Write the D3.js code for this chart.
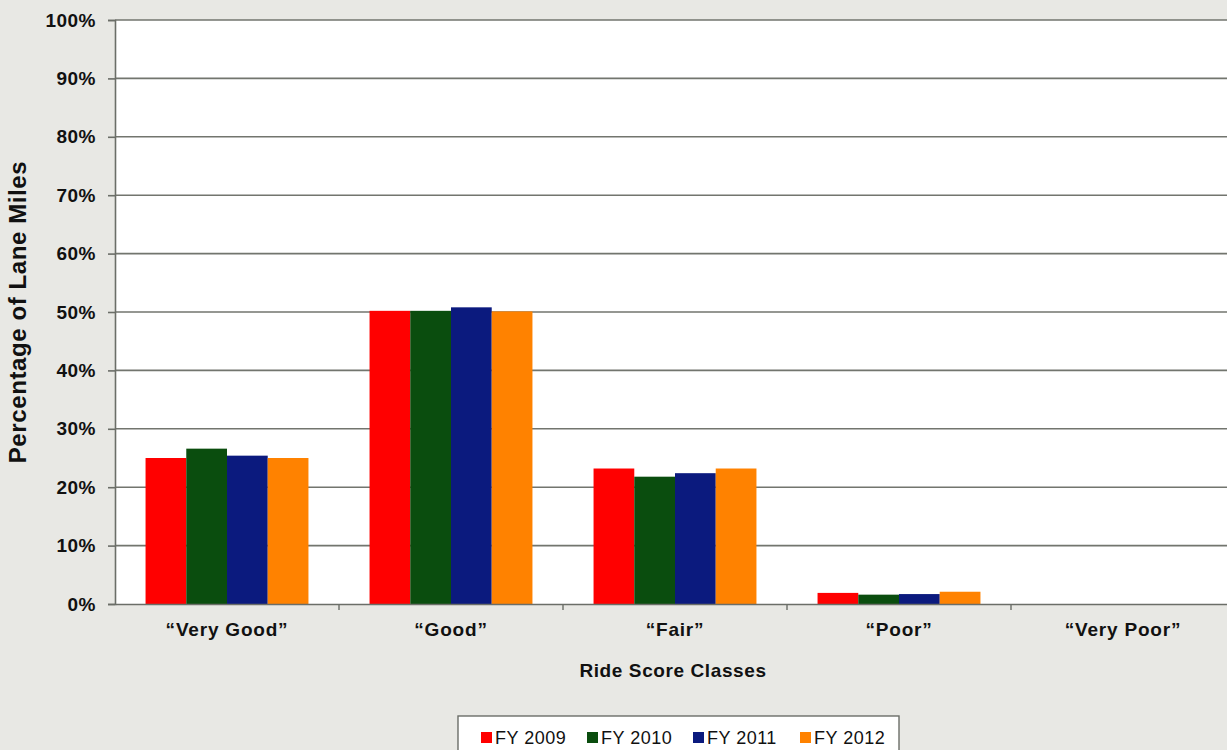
<!DOCTYPE html>
<html>
<head>
<meta charset="utf-8">
<script src="https://cdn.jsdelivr.net/npm/d3@7/dist/d3.min.js"></script>
<style>
  html, body { margin: 0; padding: 0; background: #e8e8e4; }
  svg { display: block; font-family: "Liberation Sans", Arial, sans-serif; }
</style>
</head>
<body>
<svg id="chart" width="1227" height="750"></svg>
<script>
// Ride score classes and share of lane miles per fiscal year (%)
const categories = ["\u201CVery Good\u201D", "\u201CGood\u201D", "\u201CFair\u201D", "\u201CPoor\u201D", "\u201CVery Poor\u201D"];
const seriesNames = ["FY 2009", "FY 2010", "FY 2011", "FY 2012"];
const fy2009 = [25.0, 50.2, 23.2, 1.9, 0];
const fy2010 = [26.6, 50.2, 21.8, 1.6, 0];
const fy2011 = [25.4, 50.8, 22.4, 1.7, 0];
const fy2012 = [25.0, 50.1, 23.2, 2.1, 0];
const seriesColors = ["#ff0000", "#0a4d0e", "#0b1a7e", "#ff8200"];
const yTicks = [0, 10, 20, 30, 40, 50, 60, 70, 80, 90, 100];

const seriesValues = [fy2009, fy2010, fy2011, fy2012];

const svg = d3.select("#chart");
const plot = { left: 115, right: 1235, top: 20, bottom: 604 };

const x = d3.scaleBand().domain(categories).range([plot.left, plot.right]).paddingInner(0).paddingOuter(0);
const inner = d3.scaleBand().domain(seriesNames).range([0, x.bandwidth()]).paddingOuter(0.75).paddingInner(0);
const y = d3.scaleLinear().domain([0, 100]).range([plot.bottom, plot.top]);

// plot area background
svg.append("rect")
  .attr("x", plot.left).attr("y", plot.top)
  .attr("width", plot.right - plot.left).attr("height", plot.bottom - plot.top)
  .attr("fill", "#ffffff");

// horizontal gridlines
svg.append("g")
  .selectAll("line")
  .data(yTicks.filter(d => d > 0))
  .join("line")
  .attr("x1", plot.left).attr("x2", plot.right)
  .attr("y1", d => y(d)).attr("y2", d => y(d))
  .attr("stroke", "#72756e").attr("stroke-width", 1.6);

// bars
const groups = svg.append("g")
  .selectAll("g")
  .data(seriesNames.map((name, i) => ({ name, color: seriesColors[i], values: seriesValues[i] })))
  .join("g")
  .attr("fill", d => d.color);

groups.selectAll("rect")
  .data(s => categories.map((c, j) => ({ c, v: s.values[j], name: s.name })))
  .join("rect")
  .attr("x", d => x(d.c) + inner(d.name))
  .attr("width", inner.bandwidth())
  .attr("y", d => y(d.v))
  .attr("height", d => y(0) - y(d.v));

// y axis
const yAxis = d3.axisLeft(y)
  .tickValues(yTicks)
  .tickFormat(d => d + "%")
  .tickSize(7)
  .tickPadding(12);
const gy = svg.append("g").attr("transform", `translate(${plot.left},0)`).call(yAxis);
gy.select(".domain").attr("stroke", "#6b6e68").attr("stroke-width", 1.6);
gy.selectAll(".tick line").attr("stroke", "#6b6e68").attr("stroke-width", 1.6);
gy.selectAll(".tick text")
  .attr("font-size", 19).attr("font-weight", "bold").attr("fill", "#111")
  .attr("letter-spacing", 0.5)
  .attr("font-family", "'Liberation Sans', Arial, sans-serif");

// x axis
const xAxis = d3.axisBottom(x).tickSize(0).tickPadding(19);
const gx = svg.append("g").attr("transform", `translate(0,${plot.bottom})`).call(xAxis);
gx.select(".domain").attr("stroke", "#6b6e68").attr("stroke-width", 1.6);
gx.selectAll(".tick text")
  .attr("font-size", 19).attr("font-weight", "bold").attr("fill", "#111")
  .attr("letter-spacing", 0.8)
  .attr("font-family", "'Liberation Sans', Arial, sans-serif");

// category separator ticks
svg.append("g")
  .selectAll("line")
  .data(categories)
  .join("line")
  .attr("x1", d => x(d) + x.bandwidth()).attr("x2", d => x(d) + x.bandwidth())
  .attr("y1", plot.bottom).attr("y2", plot.bottom + 6)
  .attr("stroke", "#6b6e68").attr("stroke-width", 1.4);

// axis titles
svg.append("text")
  .attr("x", 673).attr("y", 677)
  .attr("text-anchor", "middle")
  .attr("font-size", 19).attr("font-weight", "bold").attr("fill", "#111")
  .attr("letter-spacing", 0.6)
  .text("Ride Score Classes");

svg.append("text")
  .attr("transform", `translate(26,${(plot.top + plot.bottom) / 2}) rotate(-90)`)
  .attr("text-anchor", "middle")
  .attr("font-size", 24).attr("font-weight", "bold").attr("fill", "#111")
  .attr("letter-spacing", 0.6)
  .text("Percentage of Lane Miles");

// legend
const legend = svg.append("g").attr("transform", "translate(458,716)");
legend.append("rect")
  .attr("x", 0).attr("y", 0).attr("width", 441).attr("height", 40)
  .attr("fill", "#ffffff").attr("stroke", "#6b6e68").attr("stroke-width", 1.4);

const itemX = [23, 129, 235, 342];
const items = legend.selectAll("g.item")
  .data(seriesNames.map((name, i) => ({ name, color: seriesColors[i], xpos: itemX[i] })))
  .join("g")
  .attr("class", "item")
  .attr("transform", d => `translate(${d.xpos},0)`);
items.append("rect")
  .attr("x", 0).attr("y", 16).attr("width", 11).attr("height", 11)
  .attr("fill", d => d.color);
items.append("text")
  .attr("x", 14).attr("y", 28)
  .attr("font-size", 18).attr("fill", "#111")
  .attr("letter-spacing", 0.5)
  .text(d => d.name);
</script>
</body>
</html>
